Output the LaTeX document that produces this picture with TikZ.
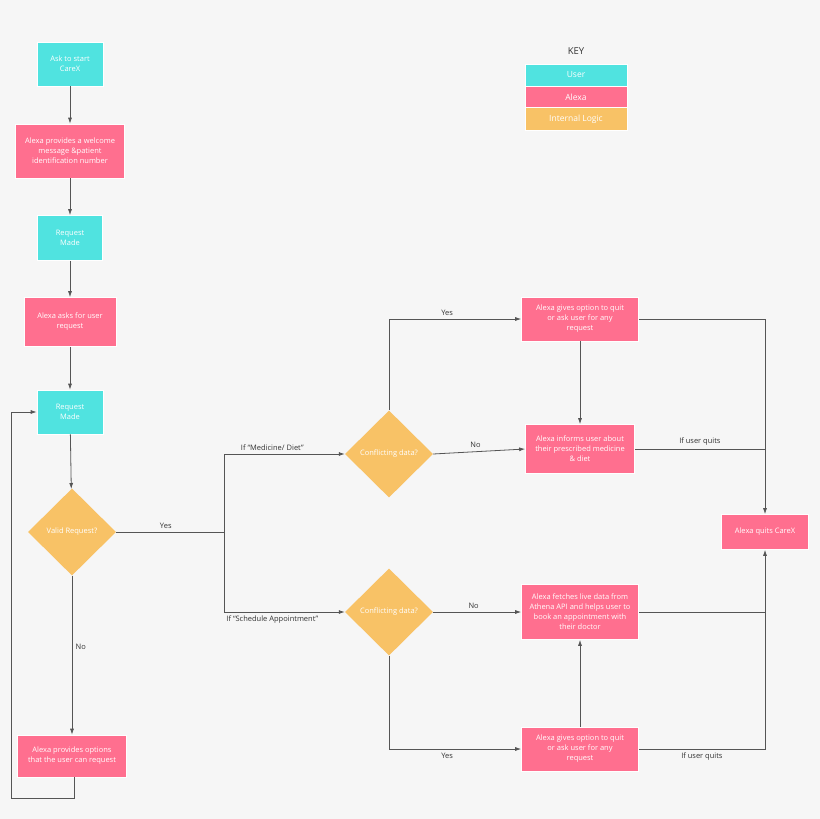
\documentclass[tikz,border=0pt]{standalone}
\usepackage{fontspec}
\setmainfont{Open Sans}
\usetikzlibrary{shapes.geometric,arrows.meta}
\definecolor{bg}{HTML}{F6F6F6}
\definecolor{cy}{HTML}{50E3E0}
\definecolor{pk}{HTML}{FF6F8F}
\definecolor{og}{HTML}{F8C266}
\definecolor{ln}{HTML}{555555}
\begin{document}
\begin{tikzpicture}[x=1pt,y=-1pt,
 box/.style={draw=white,line width=0.6pt,text=white,font=\fontsize{7.5}{10}\selectfont,align=center,inner sep=1pt},
 user/.style={box,fill=cy},
 alexa/.style={box,fill=pk},
 dia/.style={diamond,fill=og,text=white,font=\fontsize{7.5}{10}\selectfont,inner sep=0pt,minimum width=88pt,minimum height=87pt},
 lab/.style={text=black!80,font=\fontsize{7.5}{10}\selectfont},
 e/.style={draw=ln,line width=0.8pt},
 a/.style={e,-{Latex[length=6pt,width=4pt]}}]
\fill[bg] (0,0) rectangle (820,819);
\node[lab,font=\fontsize{9.5}{11}\selectfont] (key) at (576,51) {KEY};
\node[user,minimum width=102pt,minimum height=22pt,font=\fontsize{8.5}{10}\selectfont] (ku) at (576,75) {User};
\node[alexa,minimum width=102pt,minimum height=22pt,font=\fontsize{8.5}{10}\selectfont] (ka) at (576,97) {Alexa};
\node[box,fill=og,minimum width=102pt,minimum height=23pt,font=\fontsize{8.5}{10}\selectfont] (ki) at (576,119) {Internal Logic};

\node[user,minimum width=66pt,minimum height=44pt] (start) at (70,64) {Ask to start\\CareX};
\node[alexa,minimum width=109pt,minimum height=54pt] (wel) at (70,151) {Alexa provides a welcome\\message \&patient\\identification number};
\node[user,minimum width=65pt,minimum height=45pt] (r1) at (70,238) {Request\\Made};
\node[alexa,minimum width=92pt,minimum height=49pt] (ask) at (70,322) {Alexa asks for user\\request};
\node[user,minimum width=66pt,minimum height=44pt] (r2) at (70,412) {Request\\Made};
\node[dia] (valid) at (72,532) {Valid Request?};
\node[alexa,minimum width=109pt,minimum height=42pt] (opt) at (72,756) {Alexa provides options\\that the user can request};
\node[dia] (d1) at (389,454) {Conflicting data?};
\node[dia] (d2) at (389,612) {Conflicting data?};
\node[alexa,minimum width=117pt,minimum height=44pt] (g1) at (580,319) {Alexa gives option to quit\\or ask user for any\\request};
\node[alexa,minimum width=109pt,minimum height=49pt] (inf) at (580,449) {Alexa informs user about\\their prescribed medicine\\\& diet};
\node[alexa,minimum width=87pt,minimum height=35pt] (quit) at (765,532) {Alexa quits CareX};
\node[alexa,minimum width=117pt,minimum height=55pt] (fet) at (580,612) {Alexa fetches live data from\\Athena API and helps user to\\book an appointment with\\their doctor};
\node[alexa,minimum width=117pt,minimum height=44pt] (g2) at (580,749) {Alexa gives option to quit\\or ask user for any\\request};

\coordinate (br) at (224,532);
\coordinate (lp1) at (74,798);
\coordinate (lp2) at (11,798);
\coordinate (lp3) at (11,412);

\draw[a] (start) -- (wel);
\draw[a] (wel) -- (r1);
\draw[a] (r1) -- (ask);
\draw[a] (ask) -- (r2);
\draw[a] (r2) -- (valid);
\draw[a] (valid) -- node[lab,right,pos=0.45]{No} (opt);
\draw[e] (opt.south -| lp1) -- (lp1) -- (lp2) -- (lp3);
\draw[a] (lp3) -- (r2.west);
\draw[e] (valid.east) -- node[lab,above,pos=0.46]{Yes} (br);
\draw[a] (br) |- node[lab,above,pos=0.7]{If “Medicine/ Diet”} (d1.west);
\draw[a] (br) |- node[lab,below,pos=0.7]{If “Schedule Appointment”} (d2.west);
\draw[a] (d1.north) |- node[lab,above,pos=0.72]{Yes} (g1.west);
\draw[a] (d1.east) -- node[lab,above,pos=0.46]{No} (inf.west);
\draw[a] (g1) -- (inf);
\draw[a] (g1.east) -| (quit.north);
\draw[e] (inf.east) -- node[lab,above]{If user quits} (inf.east -| quit);
\draw[a] (d2.east) -- node[lab,above,pos=0.46]{No} (fet.west);
\draw[a] (d2.south) |- node[lab,below,pos=0.72]{Yes} (g2.west);
\draw[a] (g2) -- (fet);
\draw[a] (g2.east) -| node[lab,below,pos=0.25]{If user quits} (quit.south);
\draw[e] (fet.east) -- (fet.east -| quit);
\end{tikzpicture}
\end{document}
